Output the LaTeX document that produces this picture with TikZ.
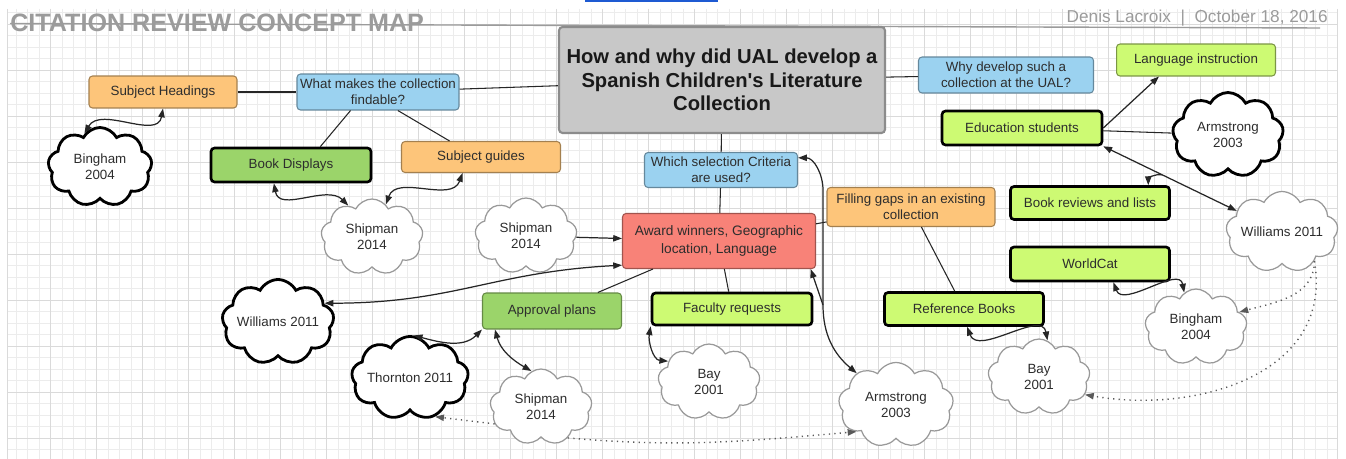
\documentclass[tikz,border=0pt]{standalone}
\usepackage{fontspec}
\setmainfont{Liberation Sans}
\usepackage{xcolor}
\usetikzlibrary{arrows.meta, shapes.symbols, calc}
\definecolor{ualgray}{RGB}{200,200,200}
\definecolor{ualblue}{RGB}{155,210,240}
\definecolor{ualorange}{RGB}{253,197,122}
\definecolor{ualred}{RGB}{248,130,120}
\definecolor{ualgreen}{RGB}{155,212,106}
\definecolor{uallime}{RGB}{205,250,115}
\definecolor{ualtext}{RGB}{45,45,45}
\definecolor{ualhead}{RGB}{155,155,155}
\definecolor{ualgrid}{RGB}{236,236,236}
\definecolor{ualgridmaj}{RGB}{218,218,218}
\definecolor{uallink}{RGB}{30,90,210}
\tikzset{
  block/.style={rectangle, rounded corners=2pt, draw=#1!65!black, fill=#1,
                text=ualtext, font=\fontsize{7.6}{9}\selectfont,
                line width=0.6pt, inner sep=1pt, align=center},
  block/.default=ualblue,
  heavy/.style={draw=black, line width=1.5pt},
  bubble/.style={cloud, cloud puffs=9, cloud puff arc=125, cloud ignores aspect,
                 draw=black!40, fill=white, line width=0.7pt, text=ualtext,
                 font=\fontsize{7.6}{9}\selectfont, align=center, inner sep=0pt,
                 minimum width=2.04cm, minimum height=1.52cm},
  heavybubble/.style={bubble, draw=black, line width=1.6pt},
  link/.style={line width=0.6pt, black!85},
  arr/.style={-{Triangle[length=5pt,width=3.6pt]}, line width=0.7pt, black!85},
  biarr/.style={{Triangle[length=5pt,width=3.6pt]}-{Triangle[length=5pt,width=3.6pt]},
                line width=0.7pt, black!85},
  dotarr/.style={-{Triangle[length=5pt,width=3.6pt]}, line width=0.8pt, black!65,
                 dash pattern=on 0.7pt off 2.4pt},
  gridline/.style={ualgrid, line width=0.4pt},
  gridmajor/.style={ualgridmaj, line width=0.5pt},
}
\begin{document}
\begin{tikzpicture}[x=0.02cm, y=-0.02cm]
  \useasboundingbox[fill=white] (0,0) rectangle (1346,459);
  %% grid paper
  \foreach \i in {1,...,115}
    \draw[gridline] ({4.5+11.5*\i},9) -- ({4.5+11.5*\i},459);
  \foreach \j in {-1,...,37}
    \draw[gridline] (7,{24+11.5*\j}) -- (1337,{24+11.5*\j});
  \foreach \i in {1,...,28}
    \draw[gridmajor] ({4.5+46*\i},9) -- ({4.5+46*\i},459);
  \foreach \j in {0,...,9}
    \draw[gridmajor] (7,{24+46*\j}) -- (1337,{24+46*\j});
  \draw[gridmajor] (7,9) -- (7,459) (1337,9) -- (1337,459);
  \draw[uallink, line width=1.4pt] (585,1.2) -- (718,1.2);
  %% heading
  \draw[ualhead, line width=0.8pt] (10,23.5) -- (1320,28);
  \node[anchor=base west, inner sep=0pt, text=ualhead,
    font=\fontsize{14.3}{16}\selectfont\bfseries] (maptitle) at (10,31.7) {CITATION REVIEW CONCEPT MAP};
  \node[anchor=base east, inner sep=0pt, text=ualhead,
    font=\fontsize{9.8}{12}\selectfont] (byline) at (1328,22.6) {Denis Lacroix~~|~~October 18, 2016};
  %% central question
  \node[block=ualgray, draw=black!45, line width=1.2pt, text=black!90,
    font=\fontsize{11.5}{13.3}\selectfont\bfseries,
    minimum width=6.52cm, minimum height=2.12cm] (title) at (722,80)
    {How and why did UAL develop a\\Spanish Children\textquotesingle s Literature\\Collection};
  %% findability
  \node[block=ualblue, minimum width=3.24cm, minimum height=0.72cm] (findable) at (378,92) {What makes the collection\\findable?};
  \node[block=ualorange, minimum width=2.96cm, minimum height=0.64cm] (subjhead) at (163,92) {Subject Headings};
  \node[block=ualgreen, heavy, minimum width=3.2cm, minimum height=0.68cm] (displays) at (291,165) {Book Displays};
  \node[block=ualorange, minimum width=3.18cm, minimum height=0.62cm] (guides) at (481,157) {Subject guides};
  \node[heavybubble, minimum width=2.08cm, minimum height=1.58cm] (binghamA) at (100,167) {Bingham\\2004};
  \node[bubble] (shipmanA) at (372,237) {Shipman\\2014};
  \draw[link] (subjhead) -- (findable);
  \draw[link] (findable) -- (title);
  \draw[link] (findable.214) -- (displays.32);
  \draw[link] (findable.-43) -- (guides.153);
  \draw[biarr] (binghamA.115) to[out=60,in=-100] (subjhead.south);
  \draw[biarr] (displays.-133) to[out=-80,in=135] (shipmanA.127);
  \draw[biarr] (guides.-139) to[out=-110,in=70] (shipmanA.67);
  %% selection criteria
  \node[block=ualblue, minimum width=3.06cm, minimum height=0.7cm] (criteria) at (721,170) {Which selection Criteria\\are used?};
  \node[block=ualred, font=\fontsize{7.8}{9.8}\selectfont,
    minimum width=3.86cm, minimum height=1.1cm] (award) at (719,241) {Award winners, Geographic\\location, Language};
  \node[bubble] (shipmanB) at (526,236) {Shipman\\2014};
  \node[block=ualorange, minimum width=3.36cm, minimum height=0.78cm] (gaps) at (911,207) {Filling gaps in an existing\\collection};
  \node[block=uallime, heavy, minimum width=3.18cm, minimum height=0.66cm] (refbooks) at (964,309) {Reference Books};
  \node[bubble] (bayB) at (1039,377) {Bay\\2001};
  \node[block=ualgreen, minimum width=2.78cm, minimum height=0.72cm] (approval) at (552,311) {Approval plans};
  \node[block=uallime, heavy, minimum width=3.2cm, minimum height=0.64cm] (faculty) at (732,309) {Faculty requests};
  \node[heavybubble, minimum width=2.22cm, minimum height=1.7cm] (williamsA) at (278,322) {Williams 2011};
  \node[heavybubble, minimum width=2.1cm, minimum height=1.66cm] (thornton) at (410,378) {Thornton 2011};
  \node[bubble] (shipmanC) at (541,407) {Shipman\\2014};
  \node[bubble] (bayA) at (709,382) {Bay\\2001};
  \node[bubble, minimum width=2.3cm, minimum height=1.7cm] (armstrongA) at (896,405) {Armstrong\\2003};
  \draw[link] (title) -- (criteria);
  \draw[link] (criteria) -- (award);
  \draw[link] (award) -- (gaps);
  \draw[link] (gaps) -- (refbooks);
  \draw[link] (award.-157) -- (approval.22);
  \draw[link] (award) -- (faculty);
  \draw[arr] (shipmanB) -- (award);
  \draw[biarr] (williamsA.22) to[out=0,in=183,looseness=1.1] (award.-166);
  \draw[biarr] (thornton.85) to[out=-15,in=225] (approval.south west);
  \draw[biarr] (approval.-162) to[out=-75,in=150] (shipmanC.105);
  \draw[biarr] (faculty.south west) to[out=-100,in=175] (bayA.153);
  \draw[biarr] (refbooks.-80) to[out=-70,in=100] (bayB.77);
  \coordinate (critturn) at (823,190);
  \coordinate (critfork) at (823,305);
  \draw[biarr] (criteria.9) to[out=0,in=90] (critturn) -- (critfork) to[out=-90,in=140] (armstrongA.141);
  \draw[arr] (critfork) -- (award.-17);
  \draw[dotarr] (shipmanC.200) -- (thornton.-57);
  \draw[dotarr] (shipmanC.-49) to[out=-5,in=185] (armstrongA.214);
  %% why develop it
  \node[block=ualblue, minimum width=3.5cm, minimum height=0.72cm] (whydev) at (1006,75) {Why develop such a\\collection at the UAL?};
  \node[block=uallime, draw=uallime!60!black, minimum width=3.18cm, minimum height=0.64cm] (langinst) at (1196,60) {Language instruction};
  \node[block=uallime, heavy, minimum width=3.2cm, minimum height=0.68cm] (edustud) at (1022,128) {Education students};
  \node[heavybubble, minimum width=2.22cm, minimum height=1.7cm] (armstrongB) at (1228,135) {Armstrong\\2003};
  \node[block=uallime, heavy, minimum width=3.18cm, minimum height=0.66cm] (reviews) at (1090,203) {Book reviews and lists};
  \node[bubble, minimum width=2.2cm, minimum height=1.62cm] (williamsB) at (1282,232) {Williams 2011};
  \node[block=uallime, heavy, minimum width=3.18cm, minimum height=0.68cm] (worldcat) at (1090,264) {WorldCat};
  \node[bubble] (binghamB) at (1196,327) {Bingham\\2004};
  \draw[link] (title) -- (whydev);
  \draw[arr] (edustud.east) -- (langinst.-156);
  \draw[link] (edustud) -- (armstrongB);
  \draw[biarr] (edustud.south east) -- (williamsB.155)
    coordinate[pos=0.44] (revfork);
  \draw[arr] (revfork) to[out=170,in=90] (reviews.17);
  \draw[biarr] (worldcat.-38) to[out=-70,in=100] (binghamB.109);
  \draw[dotarr] (williamsB.-42) to[out=-90,in=15] (binghamB.19);
  \draw[dotarr] (williamsB.-42) to[out=-80,in=-10,looseness=1.1] (bayB.-21);
\end{tikzpicture}
\end{document}
